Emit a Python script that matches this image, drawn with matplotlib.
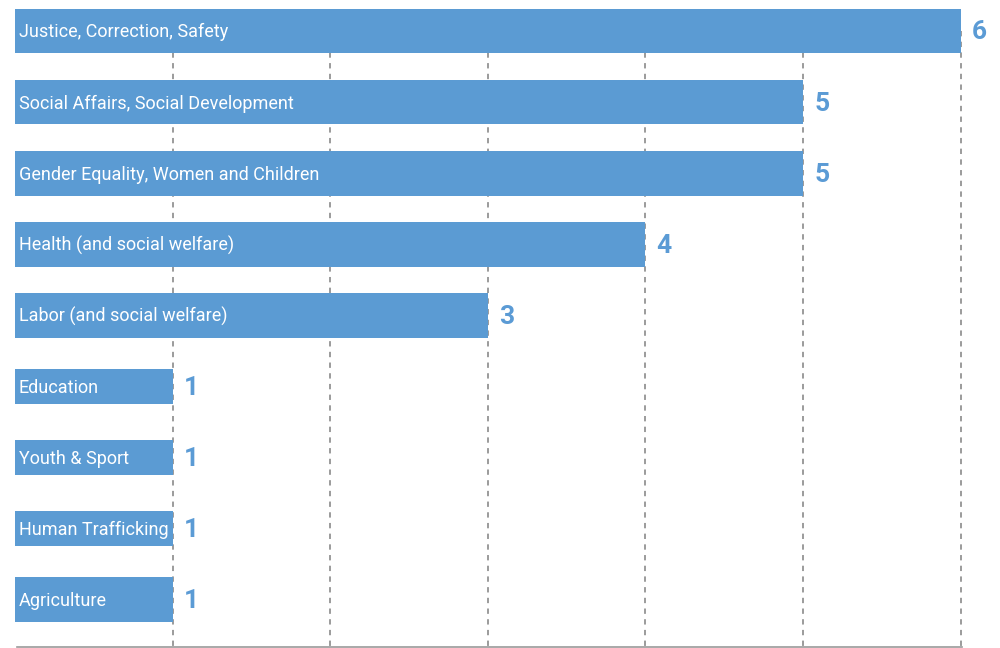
import matplotlib
matplotlib.use("Agg")
import matplotlib.pyplot as plt

categories = [
    "Justice, Correction, Safety",
    "Social Affairs, Social Development",
    "Gender Equality, Women and Children",
    "Health (and social welfare)",
    "Labor (and social welfare)",
    "Education",
    "Youth & Sport",
    "Human Trafficking",
    "Agriculture",
]
values = [6, 5, 5, 4, 3, 1, 1, 1, 1]
grid_ticks = [1, 2, 3, 4, 5, 6]

# style: bar thickness per row
bar_heights = [0.63, 0.63, 0.63, 0.63, 0.63, 0.49, 0.49, 0.49, 0.63]

family = "Roboto"
bar_color = "#5B9BD3"
val_color = "#5B9BD5"

fig = plt.figure(figsize=(10, 6.48), dpi=100)
ax = fig.add_axes([0.015, 1 - 647 / 648, 0.985, 647 / 648])

ypos = list(range(len(categories)))
ax.barh(ypos, values, height=bar_heights, color=bar_color, zorder=2)

ax.vlines(grid_ticks, 0, 8.664, colors="#808080", linewidth=1.1,
          linestyles=(0, (3.5, 3.5)), zorder=1)

for y, c, v in zip(ypos, categories, values):
    ax.text(0.025, y + 0.02, c, color="white", fontsize=13, family=family,
            va="center", ha="left", zorder=3)
    ax.annotate(str(v), (v, y + 0.02), xytext=(8, 0), textcoords="offset points",
                color=val_color, fontsize=19, fontweight="bold", family=family,
                va="center", ha="left", zorder=3)

ax.set_xlim(0, 6.25)
ax.set_ylim(8.664, -0.436)
ax.set_xticks([])
ax.set_yticks([])
for s in ["top", "right", "left"]:
    ax.spines[s].set_visible(False)
ax.spines["bottom"].set_color("#9a9a9a")
ax.spines["bottom"].set_linewidth(1.2)
ax.spines["bottom"].set_bounds(0.01, 6.01)

fig.savefig("out.png", dpi=100)
